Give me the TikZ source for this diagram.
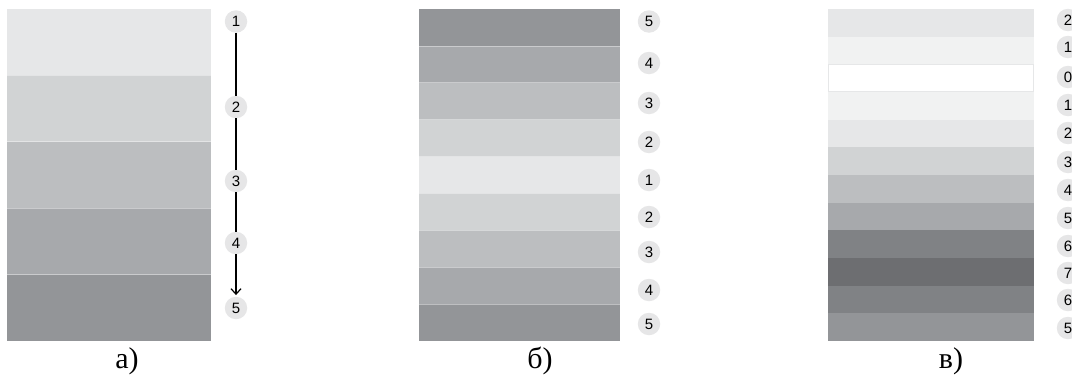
\documentclass[tikz,border=0pt]{standalone}
\usepackage{fontspec}
\setmainfont{Liberation Serif}
\newfontfamily\digitfont{Liberation Sans}
\usetikzlibrary{arrows.meta}
\definecolor{g00}{HTML}{FFFFFF}
\definecolor{g05}{HTML}{F1F2F2}
\definecolor{g10}{HTML}{E6E7E8}
\definecolor{g20}{HTML}{D1D3D4}
\definecolor{g30}{HTML}{BCBEC0}
\definecolor{g40}{HTML}{A7A9AC}
\definecolor{g50}{HTML}{939598}
\definecolor{g60}{HTML}{808285}
\definecolor{g70}{HTML}{6D6E71}
\definecolor{circ}{HTML}{E6E6E7}
\begin{document}
\begin{tikzpicture}[x=1pt,y=-1pt,
  num/.style={circle, fill=circ, minimum size=22.5pt, inner sep=0pt,
    font=\digitfont\fontsize{15}{15}\selectfont},
  lab/.style={font=\fontsize{30}{30}\selectfont, anchor=base},
  sep/.style={white, opacity=0.4, line width=0.7pt},
  conn/.style={line width=1.2pt, black}]
\useasboundingbox (0,0) rectangle (1072,378);
% panel a
\foreach \c [count=\i from 0] in {g10,g20,g30,g40,g50}{
  \fill[\c] (7,{9+\i*66.4}) rectangle (211,{9+(\i+1)*66.4});
}
\foreach \i in {1,...,4}{\draw[sep] (7,{9+\i*66.4}) -- (211,{9+\i*66.4});}
\node[num] (a1) at (236,21.5) {1};
\node[num] (a2) at (236,107) {2};
\node[num] (a3) at (236,181) {3};
\node[num] (a4) at (236,243) {4};
\node[num] (a5) at (236,308) {5};
\draw[conn] (a1) -- (a2);
\draw[conn] (a2) -- (a3);
\draw[conn] (a3) -- (a4);
\draw[conn, -{Straight Barb[length=5.5pt,width=10pt]}, shorten >=1.5pt] (a4) -- (a5);
\node[lab] (la) at (127,368) {а)};
% panel b
\foreach \c [count=\i from 0] in {g50,g40,g30,g20,g10,g20,g30,g40,g50}{
  \fill[\c] (419,{9+\i*36.889}) rectangle (620,{9+(\i+1)*36.889});
}
\foreach \i in {1,...,8}{\draw[sep] (419,{9+\i*36.889}) -- (620,{9+\i*36.889});}
\node[num] (b1) at (649,21.5) {5};
\node[num] (b2) at (649,63) {4};
\node[num] (b3) at (649,103) {3};
\node[num] (b4) at (649,142) {2};
\node[num] (b5) at (649,180) {1};
\node[num] (b6) at (649,217) {2};
\node[num] (b7) at (649,252) {3};
\node[num] (b8) at (649,290) {4};
\node[num] (b9) at (649,324) {5};
\node[lab] (lb) at (540,368) {б)};
% panel c
\foreach \c [count=\i from 0] in {g10,g05,g00,g05,g10,g20,g30,g40,g60,g70,g60,g50}{
  \fill[\c] (828,{9+\i*27.667}) rectangle (1034,{9+(\i+1)*27.667});
}
\draw[g10, line width=0.8pt] (828.4,64.7) rectangle (1033.6,91.6);
\node[num] (c1) at (1068,20) {2};
\node[num] (c2) at (1068,47) {1};
\node[num] (c3) at (1068,77) {0};
\node[num] (c4) at (1068,105) {1};
\node[num] (c5) at (1068,133) {2};
\node[num] (c6) at (1068,162) {3};
\node[num] (c7) at (1068,190) {4};
\node[num] (c8) at (1068,218) {5};
\node[num] (c9) at (1068,246) {6};
\node[num] (c10) at (1068,273) {7};
\node[num] (c11) at (1068,300) {6};
\node[num] (c12) at (1068,328) {5};
\node[lab] (lc) at (951,368) {в)};
\end{tikzpicture}
\end{document}
